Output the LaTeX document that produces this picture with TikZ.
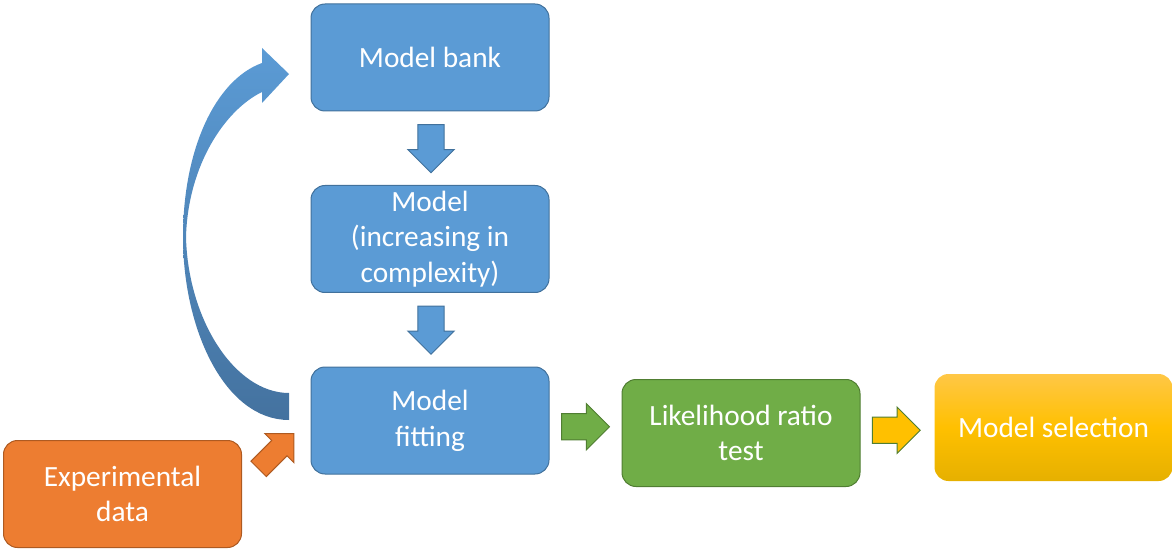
\documentclass[tikz,border=0pt]{standalone}
\usepackage{fontspec}
\setmainfont{Carlito}
\usetikzlibrary{shapes.arrows,calc}

\definecolor{bluefill}{HTML}{5B9BD5}
\definecolor{blueline}{HTML}{41719C}
\definecolor{bluedark}{HTML}{44729F}
\definecolor{greenfill}{HTML}{70AD47}
\definecolor{greenline}{HTML}{507E32}
\definecolor{orangefill}{HTML}{ED7D31}
\definecolor{orangeline}{HTML}{AE5A21}
\definecolor{goldtop}{HTML}{FFC746}
\definecolor{goldmid}{HTML}{FFC000}
\definecolor{goldbot}{HTML}{E6B000}

\tikzset{
  box/.style={rounded corners=10.5pt, minimum width=178.5pt, minimum height=80.25pt,
    text=white, align=center, font=\fontsize{22}{26.8}\selectfont, line width=0.75pt},
  bluebox/.style={box, fill=bluefill, draw=blueline},
  greenbox/.style={box, fill=greenfill, draw=greenline},
  orangebox/.style={box, fill=orangefill, draw=orangeline},
  goldbox/.style={box, top color=goldtop, bottom color=goldbot, middle color=goldmid},
  blockarrow/.style={single arrow, single arrow tip angle=90, single arrow head extend=7.5pt,
    minimum height=36pt, inner xsep=0pt, inner ysep=9.5pt, line width=0.75pt, anchor=tail},
}

\begin{document}
\begin{tikzpicture}[x=0.75pt,y=-0.75pt]
    \useasboundingbox (0,0) rectangle (1172,549);

    % boxes
    \node[bluebox] (bank) at (430,57.5) {Model bank};
    \node[bluebox] (model) at (430,239) {Model\\(increasing in\\complexity)};
    \node[bluebox] (fit) at (430,420.5) {Model\\fitting};
    \node[greenbox] (lrt) at (741,433) {Likelihood ratio\\test};
    \node[goldbox] (sel) at (1053.5,427.5) {Model selection};
    \node[orangebox] (data) at (122.5,494) {Experimental\\data};

    % block arrows
    \node[blockarrow, fill=bluefill, draw=blueline, rotate=-90] (down1) at ($(bank.south)!0.5!(model.north)+(1,-24)$) {};
    \node[blockarrow, fill=bluefill, draw=blueline, rotate=-90] (down2) at ($(model.south)!0.5!(fit.north)+(1,-24)$) {};
    \node[blockarrow, fill=greenfill, draw=greenline] (right1) at ($(fit.east)!0.5!(lrt.west)+(-24.5,0)$) {};
    \node[blockarrow, fill=goldmid, draw=greenline] (right2) at ($(lrt.east)!0.5!(sel.west)+(-25.5,0)$) {};
    \node[blockarrow, fill=orangefill, draw=orangeline, rotate=45, minimum height=37.5pt,
      inner ysep=7.8pt, single arrow head extend=7.3pt] (diag) at ($(data.north east)!0.5!(fit.south west)+(-18,12)$) {};

    % curved arrow back to the bank
    \shade[top color=bluefill, bottom color=bluedark]
      (289,420) .. controls (225,420) and (183,330) .. (183,237)
      .. controls (183,150) and (215,80) .. (262,63)
      -- (262,48) -- (289,74) -- (262,103) -- (262,92)
      .. controls (225,110) and (188,165) .. (186,237)
      .. controls (188,320) and (235,393) .. (289,393) -- cycle;
\end{tikzpicture}
\end{document}
